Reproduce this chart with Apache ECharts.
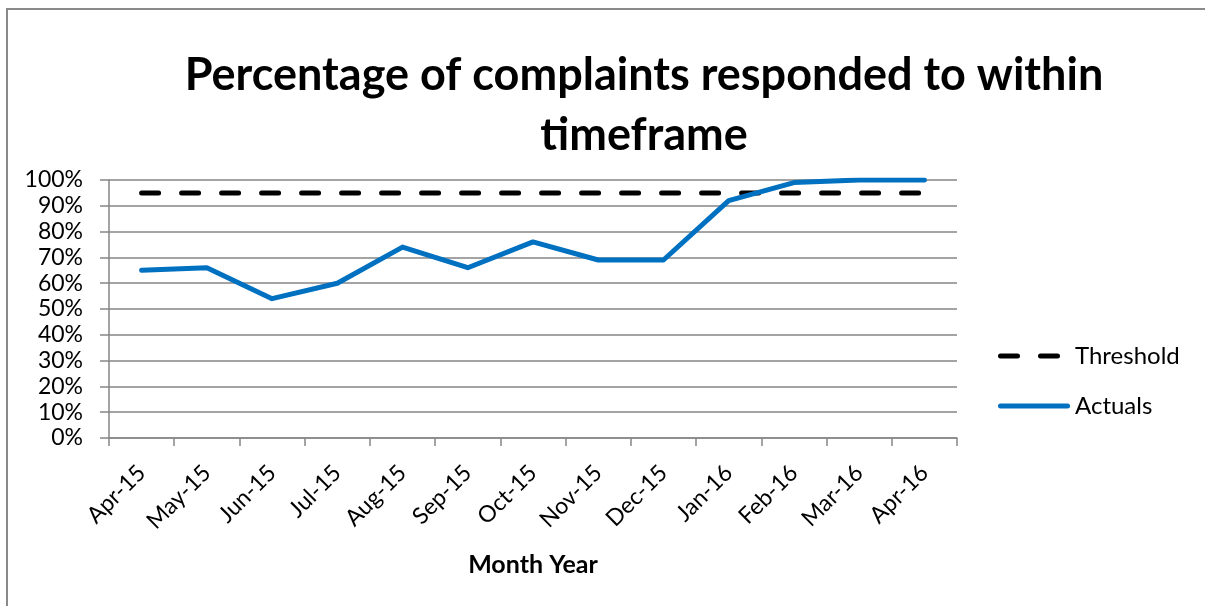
<!DOCTYPE html>
<html>
<head>
<meta charset="utf-8">
<script src="https://cdn.jsdelivr.net/npm/echarts@6/dist/echarts.min.js"></script>
<style>html,body{margin:0;padding:0;background:#fff}#c{width:1205px;height:606px}</style>
</head>
<body>
<div id="c"></div>
<script>
const categories = ['Apr-15','May-15','Jun-15','Jul-15','Aug-15','Sep-15','Oct-15','Nov-15','Dec-15','Jan-16','Feb-16','Mar-16','Apr-16'];
const thresholdValues = [95,95,95,95,95,95,95,95,95,95,95,95,95];
const actualValues = [65,66,54,60,74,66,76,69,69,92,99,100,100];

const FONT = 'Lato';
const dashIcon = 'path://M2.5,0H19.5A2.5,2.5,0,0,1,19.5,5H2.5A2.5,2.5,0,0,1,2.5,0Z' +
  'M42.5,0H59.5A2.5,2.5,0,0,1,59.5,5H42.5A2.5,2.5,0,0,1,42.5,0ZM72,0L72,5';
const solidIcon = 'path://M2.5,0H69.5A2.5,2.5,0,0,1,69.5,5H2.5A2.5,2.5,0,0,1,2.5,0Z';

const chart = echarts.init(document.getElementById('c'));
chart.setOption({
  animation: false,
  backgroundColor: '#fff',
  title: {
    text: 'Percentage of complaints responded to within\ntimeframe',
    left: 639,
    textAlign: 'center',
    top: 40,
    textStyle: { fontFamily: FONT, fontWeight: 'bold', fontSize: 45, color: '#000', lineHeight: 60 }
  },
  graphic: [{
    type: 'rect', silent: true,
    shape: { x: 7, y: 9, width: 1300, height: 700 },
    style: { fill: 'none', stroke: '#8a8a8a', lineWidth: 2 }
  }],
  legend: {
    orient: 'vertical',
    left: 993, top: 339,
    itemWidth: 72, itemHeight: 5, itemGap: 26,
    symbolKeepAspect: false,
    data: [
      { name: 'Threshold', icon: dashIcon },
      { name: 'Actuals', icon: solidIcon }
    ],
    textStyle: { fontFamily: FONT, fontSize: 24, color: '#000' }
  },
  grid: { left: 109, right: 248, top: 180, bottom: 168, containLabel: false },
  xAxis: {
    type: 'category',
    data: categories,
    boundaryGap: true,
    name: 'Month Year',
    nameLocation: 'middle',
    nameGap: 114,
    nameTextStyle: { fontFamily: FONT, fontWeight: 'bold', fontSize: 25, color: '#000' },
    axisLine: { lineStyle: { color: '#868686', width: 1.5 } },
    axisTick: { show: true, length: 8, alignWithLabel: false, lineStyle: { color: '#868686', width: 1.5 } },
    axisLabel: { rotate: 45, fontFamily: FONT, fontSize: 23, color: '#000', margin: 31, interval: 0 },
    splitLine: { show: false }
  },
  yAxis: {
    type: 'value',
    min: 0, max: 100, interval: 10,
    axisLine: { show: true, lineStyle: { color: '#868686', width: 1.5 } },
    axisTick: { show: true, length: 9, lineStyle: { color: '#868686', width: 1.5 } },
    axisLabel: { fontFamily: FONT, fontSize: 23, color: '#000', margin: 26, formatter: v => v + '%' },
    splitLine: { show: true, lineStyle: { color: '#868686', width: 1.5 } }
  },
  series: [
    {
      name: 'Threshold', type: 'line', data: thresholdValues,
      symbol: 'none', z: 3,
      lineStyle: { color: '#000', width: 5, type: [17, 23], cap: 'round' },
      itemStyle: { color: '#000' }
    },
    {
      name: 'Actuals', type: 'line', data: actualValues,
      symbol: 'none', z: 4,
      lineStyle: { color: '#0070C0', width: 5, cap: 'round', join: 'round' },
      itemStyle: { color: '#0070C0' }
    }
  ]
});
</script>
</body>
</html>
